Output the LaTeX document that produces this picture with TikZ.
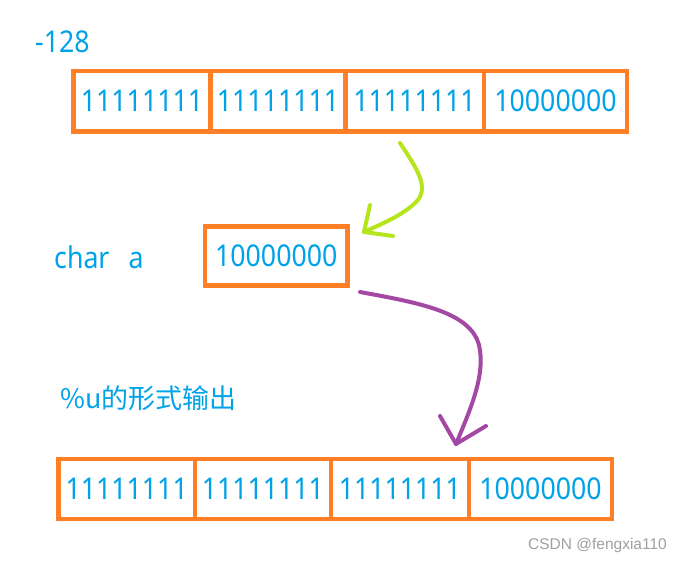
\documentclass[tikz,border=0pt]{standalone}
\usepackage{fontspec}
\setmainfont{Noto Sans}
\newfontfamily\digfont[FakeStretch=0.89]{Noto Sans}
\newfontfamily\cjk{Noto Sans CJK SC}
\newfontfamily\wmfont{Liberation Sans}
\definecolor{txtblue}{HTML}{00A2E8}
\definecolor{boxorange}{HTML}{FF7F27}
\definecolor{arrgreen}{HTML}{B5E61D}
\definecolor{arrpurple}{HTML}{A349A4}
\definecolor{wmgray}{HTML}{A0A0A0}
\tikzset{
  cell/.style={draw=boxorange, line width=4.5pt, inner sep=0pt, text=txtblue,
    font=\digfont\fontsize{30}{36}\selectfont, text height=21.5pt, text depth=0pt,
    minimum height=60.5pt},
  lbl/.style={text=txtblue, inner sep=0pt, anchor=base west,
    font=\digfont\fontsize{30}{36}\selectfont},
  stroke/.style={line width=4pt, line cap=round, line join=round}
}
\begin{document}
\begin{tikzpicture}[x=1pt,y=-1pt]
\useasboundingbox[fill=white] (0,0) rectangle (683,562);
% labels
\node[lbl] (n128) at (35,52) {-128};
\node[lbl] (chara) at (54,268) {char\hspace{19pt}a};
\node[lbl, font=\cjk\fontsize{27}{32}\selectfont] (fmt) at (60,408) {\%u的形式输出};
% top row
\node[cell, minimum width=137pt] (t1) at (142,101) {11111111};
\node[cell, minimum width=135pt] (t2) at (278,101) {11111111};
\node[cell, minimum width=139pt] (t3) at (414.5,101) {11111111};
\node[cell, minimum width=143pt] (t4) at (555.5,101) {10000000};
% middle
\node[cell, minimum width=142.5pt, minimum height=59.4pt] (m) at (276.25,256) {10000000};
% bottom row
\node[cell, minimum width=136.7pt, minimum height=60pt] (b1) at (126.7,489) {11111111};
\node[cell, minimum width=135.7pt, minimum height=60pt] (b2) at (262.9,489) {11111111};
\node[cell, minimum width=138.3pt, minimum height=60pt] (b3) at (399.9,489) {11111111};
\node[cell, minimum width=143pt, minimum height=60pt] (b4) at (540.5,489) {10000000};
% watermark
\node[inner sep=0pt, anchor=base west, text=wmgray, font=\wmfont\fontsize{15.5}{18}\selectfont] (wm) at (528,549) {CSDN @fengxia110};
% green arrow
\coordinate (g0) at (400,143);
\coordinate (gtip) at (364,232);
\coordinate (ga1) at (370,205);
\coordinate (ga2) at (393,236);
\draw[stroke, arrgreen] (g0) .. controls (418,170) and (428,186) .. (418,200)
  .. controls (405,214) and (386,222) .. (gtip);
\draw[stroke, arrgreen] (ga1) -- (gtip) -- (ga2);
% purple arrow
\coordinate (p0) at (360,292);
\coordinate (ptip) at (456,444);
\coordinate (pa1) at (440,416);
\coordinate (pa2) at (486,426);
\draw[stroke, arrpurple] (p0) .. controls (420,303) and (470,312) .. (479,345)
  .. controls (486,375) and (470,410) .. (ptip);
\draw[stroke, arrpurple] (pa1) -- (ptip) -- (pa2);
\end{tikzpicture}
\end{document}
